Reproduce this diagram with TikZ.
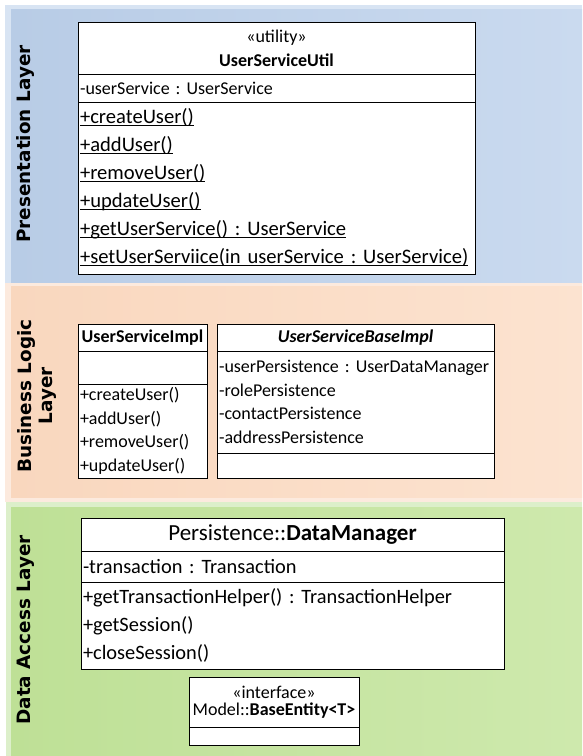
\documentclass[tikz,border=0pt]{standalone}
\usepackage{fontspec}
\setmainfont{Carlito}
\newfontfamily\labelfont{DejaVu Sans}
\usetikzlibrary{positioning}
\definecolor{presBlue}{RGB}{184,204,230}
\definecolor{presBlueLight}{RGB}{202,218,239}
\definecolor{presBlueEdge}{RGB}{216,228,243}
\definecolor{bizOrange}{RGB}{249,215,190}
\definecolor{bizOrangeLight}{RGB}{252,227,208}
\definecolor{bizOrangeEdge}{RGB}{252,234,222}
\definecolor{dataGreen}{RGB}{190,224,150}
\definecolor{dataGreenLight}{RGB}{206,233,173}
\definecolor{dataGreenEdge}{RGB}{220,239,202}
\newcommand{\stat}[1]{\underline{\smash{#1}}\strut}
\frenchspacing
\hyphenpenalty=10000
\exhyphenpenalty=10000

\begin{document}
\begin{tikzpicture}[
      x=1pt, y=-1pt,
      part/.style={rectangle, draw=black, line width=1pt, fill=white,
                   anchor=north west, inner sep=2pt, outer sep=0pt,
                   align=left, font=\fontsize{18}{23.5}\selectfont},
      head/.style={part, align=center},
      layer/.style={rotate=90, align=center,
                    font=\labelfont\bfseries\fontsize{18.4}{21}\selectfont}
    ]
    \useasboundingbox (0,0) rectangle (582,756);
    \fill[white] (0,0) rectangle (582,756);

    % --- layer bands ---
    \fill[presBlueEdge] (5,5) rectangle (582,283);
    \shade[left color=presBlue, right color=presBlueLight] (11,9) rectangle (582,283);
    \fill[bizOrangeEdge] (5,283) rectangle (582,502);
    \shade[left color=bizOrange, right color=bizOrangeLight] (11,286) rectangle (582,497);
    \fill[dataGreenEdge] (6,502) rectangle (582,756);
    \shade[left color=dataGreen, right color=dataGreenLight] (11,507) rectangle (582,756);

    \node[layer] (presLabel) at (25,144) {Presentation Layer};
    \node[layer] (bizLabel) at (37,396) {Business Logic\\Layer};
    \node[layer] (dataLabel) at (26,630) {Data Access Layer};

    % --- Presentation layer ---
    \node[head, text width=393pt, minimum height=52pt, font=\fontsize{18}{24}\selectfont]
      (utilHead) at (78,22) {«utility»\\\textbf{UserServiceUtil}};
    \node[part, text width=393pt, minimum height=28pt] (utilAttr) at (utilHead.south west)
      {-userService : UserService};
    \node[part, text width=393pt, minimum height=171pt, font=\fontsize{20.6}{28}\selectfont]
      (utilOps) at (utilAttr.south west)
      {\stat{+createUser()}\\\stat{+addUser()}\\\stat{+removeUser()}\\
       \stat{+updateUser()}\\\stat{+getUserService() : UserService}\\
       \stat{+setUserServiice(in userService : UserService)}};

    % --- Business logic layer ---
    \node[head, text width=125pt, minimum height=27pt] (implHead) at (78,324)
      {\textbf{UserServiceImpl}};
    \node[part, text width=125pt, minimum height=33pt] (implAttr) at (implHead.south west) {};
    \node[part, text width=125pt, minimum height=94pt] (implOps) at (implAttr.south west)
      {+createUser()\\+addUser()\\+removeUser()\\+updateUser()};

    \node[head, text width=273pt, minimum height=27pt] (baseHead) at (217,324)
      {\textbf{\textit{UserServiceBaseImpl}}};
    \node[part, text width=273pt, minimum height=102pt] (baseAttr) at (baseHead.south west)
      {\mbox{-userPersistence : UserDataManager}\\-rolePersistence\\-contactPersistence\\-addressPersistence};
    \node[part, text width=273pt, minimum height=25pt] (baseOps) at (baseAttr.south west) {};

    % --- Data access layer ---
    \node[head, text width=419pt, minimum height=33pt, font=\fontsize{23}{26}\selectfont]
      (dmHead) at (81,518) {Persistence::\textbf{DataManager}};
    \node[part, text width=419pt, minimum height=31pt, font=\fontsize{20.4}{28}\selectfont]
      (dmAttr) at (dmHead.south west) {-transaction : Transaction};
    \node[part, text width=419pt, minimum height=87pt, font=\fontsize{20.4}{28}\selectfont]
      (dmOps) at (dmAttr.south west)
      {+getTransactionHelper() : TransactionHelper\\+getSession()\\+closeSession()};

    \node[head, text width=166pt, minimum height=50pt, font=\fontsize{18}{16.5}\selectfont]
      (entityHead) at (189,677) {«interface»\\Model::\textbf{BaseEntity<T>}};
    \node[part, text width=166pt, minimum height=18pt] (entityBody) at (entityHead.south west) {};
  \end{tikzpicture}
\end{document}
